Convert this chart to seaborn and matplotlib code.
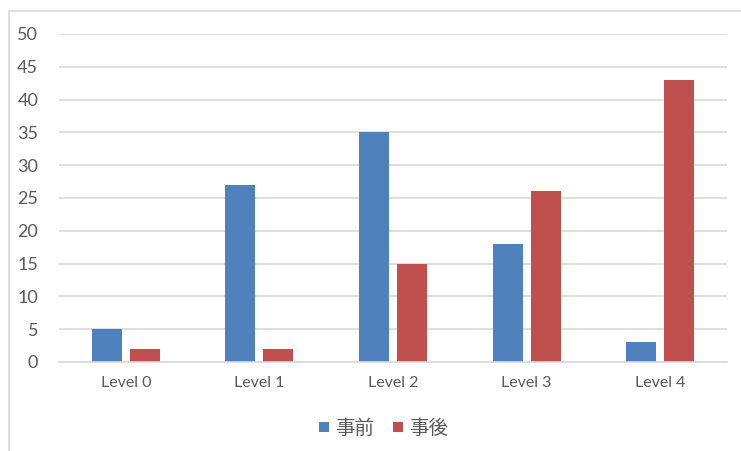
import matplotlib
matplotlib.use("Agg")
import matplotlib.pyplot as plt
import seaborn as sns
import pandas as pd
from matplotlib.lines import Line2D

# data
levels = ["Level 0", "Level 1", "Level 2", "Level 3", "Level 4"]
before = [5, 27, 35, 18, 3]   # 事前
after = [2, 2, 15, 26, 43]    # 事後
series_names = ["事前", "事後"]
y_ticks = list(range(0, 55, 5))

BLUE = "#4F81BD"
RED = "#C0504D"
TEXT = "#595959"
GRID = "#D9D9D9"

df = pd.DataFrame({
    "level": levels * 2,
    "value": before + after,
    "series": [series_names[0]] * len(levels) + [series_names[1]] * len(levels),
})

sns.set_style("white")
plt.rcParams["font.family"] = ["Lato", "Noto Sans CJK JP", "DejaVu Sans"]

fig = plt.figure(figsize=(7.41, 4.51), dpi=100)
ax = fig.add_axes([59 / 741, 89 / 451, 668 / 741, 328 / 451])

sns.barplot(data=df, x="level", y="value", hue="series", order=levels,
            hue_order=series_names, palette=[BLUE, RED], width=0.57, gap=0.21,
            saturation=1, linewidth=0, ax=ax)

ax.set_ylim(0, 50)
ax.set_xlim(-0.5, len(levels) - 0.5)
ax.set_yticks(y_ticks)
ax.yaxis.grid(True, color=GRID, linewidth=1.2)
ax.set_axisbelow(True)
for s in ["top", "right", "left"]:
    ax.spines[s].set_visible(False)
ax.spines["bottom"].set_color(GRID)
ax.spines["bottom"].set_linewidth(1.2)
ax.tick_params(axis="both", length=0, colors=TEXT, labelsize=11.5)
ax.tick_params(axis="y", pad=15, labelsize=13)
ax.tick_params(axis="x", pad=10)
ax.set_xlabel("")
ax.set_ylabel("")

# square legend markers like the Excel legend
handles = [Line2D([], [], linestyle="none", marker="s", markersize=6.5,
                  markerfacecolor=c, markeredgewidth=0) for c in [BLUE, RED]]
ax.get_legend().remove()
fig.legend(handles, series_names, loc="center", bbox_to_anchor=(383 / 741, 1 - 428 / 451),
           ncol=2, frameon=False, fontsize=14, labelcolor=TEXT,
           handlelength=0.6, handletextpad=0.3, columnspacing=0.9)

# chart area border (left and top edges visible)
fig.add_artist(Line2D([9 / 741, 9 / 741], [0, 1 - 11 / 451], transform=fig.transFigure,
                      color=GRID, linewidth=1.2))
fig.add_artist(Line2D([9 / 741, 1], [1 - 11 / 451, 1 - 11 / 451], transform=fig.transFigure,
                      color=GRID, linewidth=1.2))

fig.savefig("out.png", dpi=100)
